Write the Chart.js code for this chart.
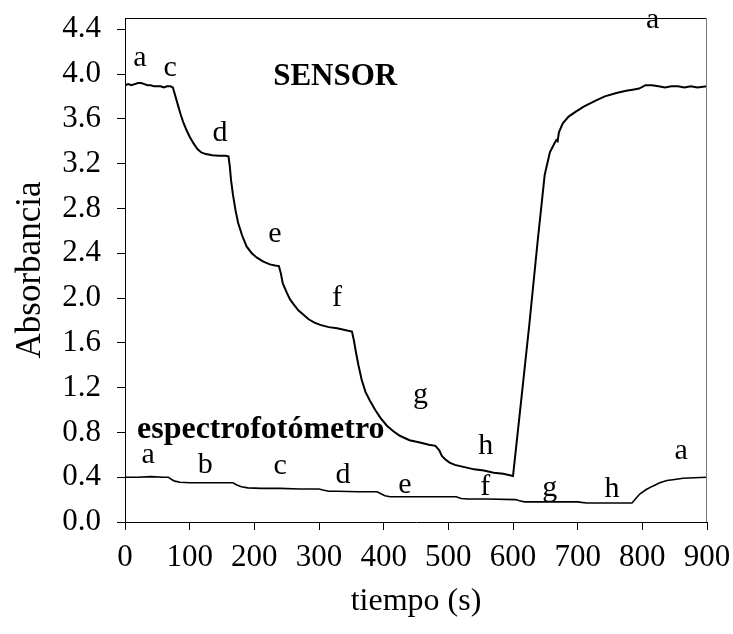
<!DOCTYPE html>
<html>
<head>
<meta charset="utf-8">
<script src="https://cdn.jsdelivr.net/npm/chart.js@4.4.0/dist/chart.umd.min.js"></script>
<style>
  body { margin: 0; background: #fff; }
  #wrap { width: 733px; height: 634px; position: relative; }
</style>
</head>
<body>
<div id="wrap"><canvas id="chart"></canvas></div>
<script>
// sensor curve (time in s, absorbance)
const sensorTime = [0, 5, 10, 15, 20, 25, 30, 35, 40, 45, 50, 55, 60, 65, 70, 74,
  78, 82, 86, 90, 95, 100, 106, 112, 118, 125, 135, 145, 155, 160,
  162, 164, 167, 171, 175, 181, 188, 196, 204, 214, 224, 232, 238,
  241, 244, 250, 255, 260, 268, 276, 284, 293, 302, 315, 328, 340, 351,
  354, 357, 361, 366, 372, 379, 387, 395, 405, 415, 425, 440, 456, 470, 480,
  486, 490, 495, 502, 510, 525, 540, 555, 570, 585, 600,
  612, 625, 638, 649, 657, 664, 667, 669, 671, 677, 686, 696, 710, 727, 742,
  760, 775, 785, 795, 805, 815, 825, 835, 845, 855, 865, 875, 885, 900];
const sensorAbs = [3.90, 3.91, 3.90, 3.91, 3.92, 3.92, 3.91, 3.90, 3.90, 3.89, 3.89, 3.89, 3.88, 3.89, 3.89, 3.88,
  3.80, 3.72, 3.64, 3.57, 3.50, 3.44, 3.38, 3.33, 3.30, 3.285, 3.275, 3.27, 3.27, 3.265,
  3.18, 3.05, 2.92, 2.78, 2.67, 2.56, 2.46, 2.40, 2.36, 2.325, 2.30, 2.29, 2.285,
  2.22, 2.13, 2.05, 1.99, 1.95, 1.89, 1.85, 1.81, 1.78, 1.76, 1.74, 1.73, 1.715, 1.70,
  1.62, 1.52, 1.40, 1.27, 1.16, 1.08, 1.00, 0.93, 0.86, 0.81, 0.77, 0.73, 0.71, 0.69, 0.68,
  0.64, 0.59, 0.56, 0.53, 0.51, 0.49, 0.47, 0.46, 0.44, 0.43, 0.41,
  1.05, 1.75, 2.50, 3.10, 3.30, 3.38, 3.41, 3.40, 3.48, 3.56, 3.62, 3.66, 3.71, 3.76, 3.80,
  3.83, 3.85, 3.86, 3.87, 3.90, 3.90, 3.89, 3.88, 3.89, 3.89, 3.88, 3.89, 3.88, 3.89];

// spectrophotometer curve
const specTime = [0, 20, 40, 60, 67, 72, 77, 85, 100, 120, 140, 160, 167, 173, 180, 190, 210, 240, 270, 300,
  306, 315, 330, 360, 390, 395, 402, 410, 440, 480, 512, 520, 530, 560, 604, 610, 618, 650, 700, 706, 714,
  750, 784, 790, 796, 806, 816, 827, 838, 850, 863, 880, 900];
const specAbs = [0.40, 0.40, 0.405, 0.40, 0.40, 0.38, 0.365, 0.355, 0.35, 0.35, 0.35, 0.35, 0.35, 0.33, 0.315, 0.305, 0.30, 0.30, 0.295, 0.295,
  0.285, 0.275, 0.275, 0.27, 0.27, 0.255, 0.235, 0.225, 0.225, 0.225, 0.225, 0.21, 0.205, 0.205, 0.20, 0.19, 0.18, 0.18, 0.18, 0.175, 0.17,
  0.17, 0.17, 0.21, 0.25, 0.29, 0.32, 0.35, 0.37, 0.38, 0.39, 0.395, 0.40];

const yTickValues = [0, 0.4, 0.8, 1.2, 1.6, 2.0, 2.4, 2.8, 3.2, 3.6, 4.0, 4.4];

// text labels placed in data coordinates
const sensorLetters = ["a", "c", "d", "e", "f", "g", "h", "a"];
const sensorLetterT = [23, 70, 147, 232, 328, 457, 558, 816];
const sensorLetterY = [4.14, 4.05, 3.47, 2.57, 2.00, 1.13, 0.68, 4.48];
const specLetters = ["a", "b", "c", "d", "e", "f", "g", "h", "a"];
const specLetterT = [36, 124, 240, 337, 433, 557, 657, 753, 860];
const specLetterY = [0.60, 0.51, 0.50, 0.42, 0.33, 0.31, 0.30, 0.29, 0.63];
const seriesNames = ["SENSOR", "espectrofotómetro"];
const seriesNameT = [325, 210];
const seriesNameY = [3.97, 0.82];

const serif = "'Liberation Serif', 'Times New Roman', serif";

const toPoints = (xs, ys) => xs.map((x, i) => ({ x: x, y: ys[i] }));

const labelsPlugin = {
  id: "labels",
  afterDatasetsDraw(chart) {
    const c = chart.ctx;
    const sx = chart.scales.x;
    const sy = chart.scales.y;
    const area = chart.chartArea;
    c.save();
    // frame top and right
    c.strokeStyle = "#000";
    c.lineWidth = 1;
    c.beginPath();
    c.moveTo(area.left, area.top + 0.5);
    c.lineTo(area.right, area.top + 0.5);
    c.stroke();
    c.strokeStyle = "#777";
    c.beginPath();
    c.moveTo(area.right - 0.5, area.top);
    c.lineTo(area.right - 0.5, area.bottom);
    c.stroke();

    c.fillStyle = "#000";
    c.textAlign = "center";
    c.textBaseline = "middle";
    c.font = "30px " + serif;
    sensorLetters.forEach((t, i) => {
      c.fillText(t, sx.getPixelForValue(sensorLetterT[i]), sy.getPixelForValue(sensorLetterY[i]));
    });
    specLetters.forEach((t, i) => {
      c.fillText(t, sx.getPixelForValue(specLetterT[i]), sy.getPixelForValue(specLetterY[i]));
    });
    c.font = "bold 31px " + serif;
    c.fillText(seriesNames[0], sx.getPixelForValue(seriesNameT[0]), sy.getPixelForValue(seriesNameY[0]));
    c.font = "bold 32px " + serif;
    c.fillText(seriesNames[1], sx.getPixelForValue(seriesNameT[1]), sy.getPixelForValue(seriesNameY[1]));
    c.restore();
  },
};

new Chart(document.getElementById("chart"), {
  type: "scatter",
  data: {
    datasets: [
      {
        label: "sensor",
        data: toPoints(sensorTime, sensorAbs),
        showLine: true,
        borderColor: "#000",
        borderWidth: 2,
        pointRadius: 0,
        tension: 0,
      },
      {
        label: "espectrofotómetro",
        data: toPoints(specTime, specAbs),
        showLine: true,
        borderColor: "#000",
        borderWidth: 1.6,
        pointRadius: 0,
        tension: 0,
      },
    ],
  },
  options: {
    responsive: true,
    maintainAspectRatio: false,
    animation: false,
    layout: { padding: { top: 18, right: 26, left: 0, bottom: 0 } },
    plugins: {
      legend: { display: false },
      tooltip: { enabled: false },
    },
    scales: {
      x: {
        type: "linear",
        min: 0,
        max: 900,
        ticks: {
          stepSize: 100,
          color: "#000",
          padding: 10,
          maxRotation: 0,
          font: { family: serif, size: 31, lineHeight: 1.16 },
        },
        grid: { drawOnChartArea: false, drawTicks: true, tickLength: 8, color: "#000" },
        border: { color: "#000", width: 1 },
        title: {
          display: true,
          text: "tiempo (s)",
          color: "#000",
          font: { family: serif, size: 32 },
          padding: { top: 0, bottom: 13 },
        },
        afterFit(scale) {
          scale.height = 112;
          scale.paddingLeft = 0;
          scale.paddingRight = 0;
        },
      },
      y: {
        min: 0,
        max: 4.5,
        ticks: {
          color: "#000",
          padding: 16,
          font: { family: serif, size: 31, lineHeight: 1.16 },
          callback: (v) => v.toFixed(1),
        },
        afterBuildTicks(scale) {
          scale.ticks = yTickValues.map((v) => ({ value: v }));
        },
        grid: { drawOnChartArea: false, drawTicks: true, tickLength: 8, color: "#000" },
        border: { color: "#000", width: 1 },
        title: {
          display: true,
          text: "Absorbancia",
          color: "#000",
          font: { family: serif, size: 35 },
          padding: { top: 10, bottom: 0 },
        },
        afterFit(scale) {
          scale.width = 125;
          scale.paddingTop = 0;
          scale.paddingBottom = 0;
        },
      },
    },
  },
  plugins: [labelsPlugin],
});
</script>
</body>
</html>
